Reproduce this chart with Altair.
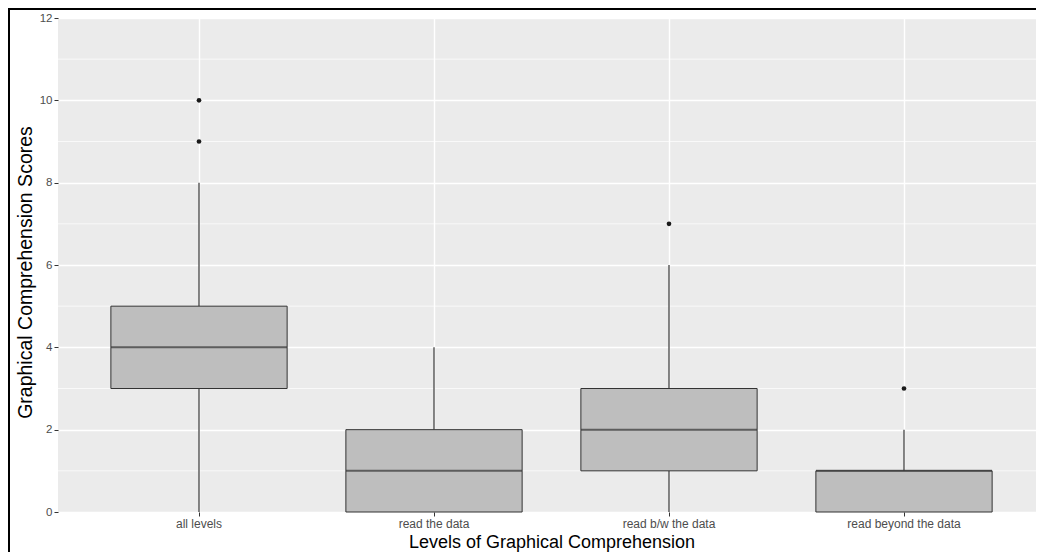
import altair as alt
import pandas as pd

categories = ["all levels", "read the data", "read b/w the data", "read beyond the data"]
whisker_low = [0, 0, 0, 0]
q1 = [3, 0, 1, 0]
median = [4, 1, 2, 1]
q3 = [5, 2, 3, 1]
whisker_high = [8, 4, 6, 2]

outlier_cat = ["all levels", "all levels", "read b/w the data", "read beyond the data"]
outlier_val = [9, 10, 7, 3]

y_major = [0, 2, 4, 6, 8, 10, 12]
y_minor = [1, 3, 5, 7, 9, 11]

stats = pd.DataFrame({"level": categories, "lo": whisker_low, "q1": q1,
                      "med": median, "q3": q3, "hi": whisker_high})
outs = pd.DataFrame({"level": outlier_cat, "score": outlier_val})
minor = pd.DataFrame({"m": y_minor})

FONT = "Liberation Sans"
W, H = 978, 494

xscale = alt.Scale(type="band", domain=categories, range=[0, 987],
                   paddingInner=0, paddingOuter=0.1)
yscale = alt.Scale(domain=[0, 12], nice=False, zero=True)

xaxis = alt.Axis(title="Levels of Graphical Comprehension", labelAngle=0,
                 bandPosition=0.5, grid=True, gridColor="white", gridWidth=1.4,
                 domain=False, tickColor="#333333", tickSize=4, labelPadding=2,
                 labelFontSize=12, labelColor="#4D4D4D", labelFont=FONT,
                 titleFont=FONT, titleFontSize=18, titleFontWeight="normal",
                 titleColor="black", titlePadding=4)
yaxis = alt.Axis(title="Graphical Comprehension Scores", values=y_major,
                 grid=True, gridColor="white", gridWidth=1.4, domain=False,
                 tickColor="#333333", tickSize=4, labelPadding=2,
                 labelFontSize=11.5, labelColor="#4D4D4D", labelFont=FONT,
                 titleFont=FONT, titleFontSize=19.5, titleFontWeight="normal",
                 titleColor="black", titlePadding=4, titleY=254)

base = alt.Chart(stats)

minor_grid = alt.Chart(minor).mark_rule(color="white", strokeWidth=0.7).encode(
    y=alt.Y("m:Q", scale=yscale, axis=yaxis))

x_enc = alt.X("level:N", scale=xscale, axis=xaxis, sort=categories)

w_low = base.mark_rule(color="#444444", strokeWidth=1.3).encode(
    x=x_enc, y=alt.Y("lo:Q", scale=yscale), y2="q1:Q")
w_high = base.mark_rule(color="#444444", strokeWidth=1.3).encode(
    x=x_enc, y=alt.Y("q3:Q", scale=yscale), y2="hi:Q")
boxes = base.mark_bar(fill="#BEBEBE", stroke="#333333", strokeWidth=1,
                      width=alt.RelativeBandSize(0.75)).encode(
    x=x_enc, y=alt.Y("q1:Q", scale=yscale), y2="q3:Q")
meds = base.mark_tick(color="#333333", size=176, thickness=2).encode(
    x=x_enc, y=alt.Y("med:Q", scale=yscale))
points = alt.Chart(outs).mark_circle(color="#1a1a1a", size=22, opacity=1).encode(
    x=alt.X("level:N", scale=xscale, sort=categories),
    y=alt.Y("score:Q", scale=yscale))

frame_df = pd.DataFrame({"f": [0]})
frame_left = alt.Chart(frame_df).mark_rule(color="black", strokeWidth=2).encode(
    x=alt.value(-49), y=alt.value(-9), y2=alt.value(534))
frame_top = alt.Chart(frame_df).mark_rule(color="black", strokeWidth=2).encode(
    x=alt.value(-50), x2=alt.value(W), y=alt.value(-9))

chart = alt.layer(minor_grid, w_low, w_high, boxes, meds, points,
                  frame_left, frame_top).properties(
    width=W, height=H,
    background="white",
    autosize=alt.AutoSizeParams(type="none"),
    padding={"left": 50, "top": 10, "right": 0, "bottom": 40},
).configure_view(fill="#EBEBEB", strokeWidth=0)

chart.save("out.html", embed_options={"renderer": "svg", "actions": False})
